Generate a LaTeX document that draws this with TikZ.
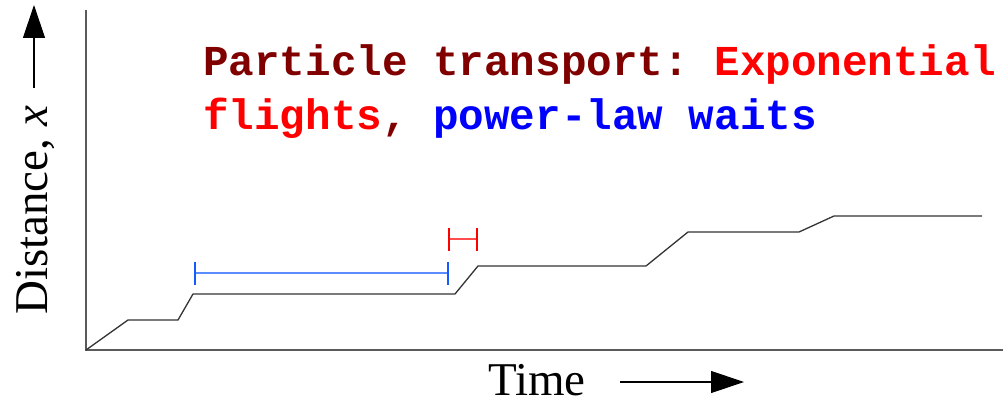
\documentclass[tikz,border=0pt]{standalone}
\usepackage{fontspec}
\setmainfont{Liberation Serif}
\newfontfamily\monob{Liberation Mono}
\usetikzlibrary{arrows.meta}
\definecolor{maroonT}{RGB}{128,0,0}
\definecolor{redT}{RGB}{255,0,0}
\definecolor{blueT}{RGB}{0,0,255}
\definecolor{barblue}{RGB}{20,90,255}
\definecolor{axisgray}{RGB}{90,90,90}
\begin{document}
\frenchspacing
\begin{tikzpicture}[x=1pt,y=-1pt,
  axis/.style={draw=axisgray,line width=1.5pt},
  track/.style={draw=black!80,line width=1.3pt,line join=miter},
  bigarrow/.style={line width=1.2pt,-{Triangle[length=33pt,width=22pt]}},
  labeltext/.style={inner sep=0pt,font=\fontsize{47}{50}\selectfont},
  title/.style={inner sep=0pt,anchor=base west,font=\monob\bfseries\fontsize{42.6}{54}\selectfont}]
\useasboundingbox (0,0) rectangle (1003,406);
% axes
\coordinate (ytop) at (86,10);
\coordinate (origin) at (86,350);
\coordinate (xend) at (1003,350);
\draw[axis] (ytop) -- (origin) -- (xend);
% trajectory
\coordinate (p1) at (128,320);
\coordinate (p2) at (178,320);
\coordinate (p3) at (193,294);
\coordinate (p4) at (455,294);
\coordinate (p5) at (478,266);
\coordinate (p6) at (646,266);
\coordinate (p7) at (688,232);
\coordinate (p8) at (799,232);
\coordinate (p9) at (834,216);
\coordinate (p10) at (982,216);
\draw[track] (origin) -- (p1) -- (p2) -- (p3) -- (p4) -- (p5) -- (p6) -- (p7) -- (p8) -- (p9) -- (p10);
% wait bar (blue)
\coordinate (wa) at (195,273);
\coordinate (wb) at (448,273);
\draw[barblue!70,line width=1.5pt] (wa) -- (wb);
\draw[barblue,line width=2.5pt] (195,262) -- (195,285) (448,262) -- (448,285);
% flight bar (red)
\coordinate (fa) at (449,239);
\coordinate (fb) at (477,239);
\draw[redT!70,line width=1.5pt] (fa) -- (fb);
\draw[redT,line width=2pt] (449,228) -- (449,251) (477,228) -- (477,251);
% labels
\node[labeltext,anchor=base west] (timelbl) at (488,395) {Time};
\coordinate (ta) at (620,382);
\coordinate (tb) at (744,382);
\draw[bigarrow] (ta) -- (tb);
\node[labeltext,anchor=base west,rotate=90] (distlbl) at (47,315) {Distance, \textit{x}};
\coordinate (da) at (34,88);
\coordinate (db) at (34,5);
\draw[bigarrow] (da) -- (db);
% title
\node[title] (t1) at (203,76) {\textcolor{maroonT}{Particle transport:} \textcolor{redT}{Exponential}};
\node[title] (t2) at (203,130) {\textcolor{redT}{flights}\textcolor{maroonT}{,} \textcolor{blueT}{power-law waits}};
\end{tikzpicture}
\end{document}
